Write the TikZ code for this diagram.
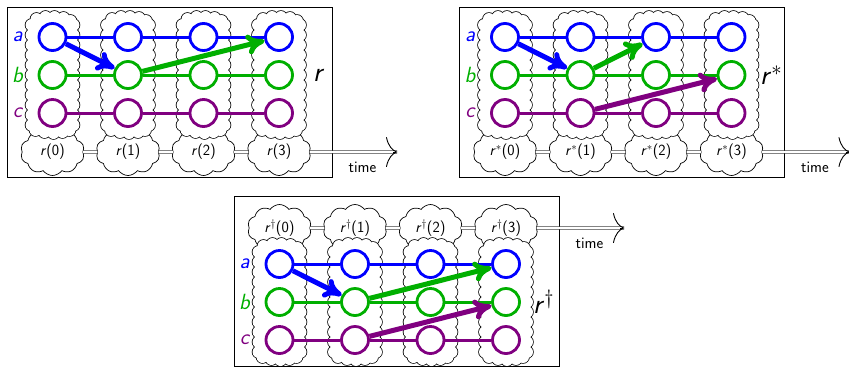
\documentclass[tikz,border=0pt]{standalone}
\usetikzlibrary{shapes.symbols,arrows.meta,calc}
\definecolor{cA}{RGB}{0,0,255}
\definecolor{cB}{RGB}{0,175,0}
\definecolor{cC}{RGB}{128,0,128}
\tikzset{
  state/.style={circle,draw,fill=white,line width=2.8pt,minimum size=27pt,inner sep=0pt},
  vcstroke/.style={draw=black,line width=1.5pt},
  tcloud/.style={cloud,cloud puffs=10,cloud puff arc=110,aspect=1.5,draw=black,line width=0.7pt,
    fill=white,minimum width=64pt,minimum height=47pt,inner sep=0pt,
    font=\fontsize{15.5}{17}\selectfont\sffamily},
  dline/.style={draw=black!75,line width=0.8pt,double=white,double distance=1.6pt},
  tipline/.style={line width=0.9pt,draw=black,-{To[length=11pt,width=30pt]}},
  hline/.style={line width=3pt},
  bigarrow/.style={line width=5pt,-{To[length=18pt,width=20pt]}},
  boxline/.style={draw=black,line width=0.7pt},
  rowlabel/.style={font=\fontsize{22}{24}\selectfont\sffamily\itshape,inner sep=0pt},
  biglabel/.style={font=\fontsize{28}{30}\selectfont\sffamily,inner sep=0pt,anchor=west},
  timelabel/.style={font=\fontsize{16}{18}\selectfont\sffamily,inner sep=0pt}
}
\def\vcpts{-21/-50,-21/-40,-21/-30,-21/-20,-21/-10,-21/0,-21/10,-21/20,-21/30,-21/40,-21/50,
  21/-50,21/-40,21/-30,21/-20,21/-10,21/0,21/10,21/20,21/30,21/40,21/50,
  -16/-56,-7/-58,2/-58,11/-57,18/-54,
  -17/55,-8/57,1/58,10/57,17/55}
% scalloped vertical cloud centred at (#1,#2)
\newcommand\vcloudat[2]{%
  \foreach \dx/\dy in \vcpts{\draw[vcstroke] ({#1+\dx},{#2+\dy}) circle[radius=6pt];}
  \fill[white] ({#1-21},{#2-57}) rectangle ({#1+21},{#2+57});
  \foreach \dx/\dy in \vcpts{\fill[white] ({#1+\dx},{#2+\dy}) circle[radius=6pt];}
}
% #1 name, #2 ox, #3 oy, #4 cloud dy, #5 cloud label, #6 big label, #7 box top offset, #8 big label dx
\newcommand\drawpanel[8]{%
  \draw[boxline] ({#2-45.5},{#3+#7}) rectangle ({#2+279.5},{#3+#7+170});
  \foreach \i in {0,...,3}{
    \node[tcloud] (#1t\i) at ({#2+75.5*\i},{#3+#4}) {#5(\i)};
  }
  \foreach \i in {0,...,3}{
    \vcloudat{#2+75.5*\i}{#3+38}
  }
  \foreach \i/\j in {0/1,1/2,2/3}{
    \draw[dline] (#1t\i) -- (#1t\j);
  }
  \coordinate (#1tip) at ({#2+344.5},{#3+#4});
  \coordinate (#1tipb) at ({#2+340.5},{#3+#4});
  \draw[dline] (#1t3) -- (#1tip);
  \draw[tipline] (#1tipb) -- (#1tip);
  \node[timelabel] (#1time) at ({#2+310},{#3+#4+15}) {time};
  \foreach \r/\c/\k in {a/cA/0,b/cB/1,c/cC/2}{
    \foreach \i in {0,...,3}{
      \node[state,draw=\c] (#1\r\i) at ({#2+75.5*\i},{#3+38*\k}) {};
    }
    \foreach \i/\j in {0/1,1/2,2/3}{
      \draw[hline,\c] (#1\r\i) -- (#1\r\j);
    }
    \node[rowlabel,text=\c] (#1lab\r) at ({#2-35},{#3+38*\k}) {\r};
  }
  \node[biglabel] (#1big) at ({#2+226.5+#8},{#3+38}) {#6};
}
\begin{document}
\begin{tikzpicture}[x=1pt,y=-1pt]
\useasboundingbox (0,0) rectangle (849,368);
% panel 1
\drawpanel{p}{52.5}{37}{115}{\textit{r}}{\textit{r}}{-30}{34}
\draw[bigarrow,cA] (pa0) -- (pb1);
\draw[bigarrow,cB] (pb1) -- (pa3);
% panel 2
\drawpanel{q}{505}{37}{115}{\textit{r}$^*$}{\textit{r}$^*$}{-30}{28.5}
\draw[bigarrow,cA] (qa0) -- (qb1);
\draw[bigarrow,cB] (qb1) -- (qa2);
\draw[bigarrow,cC] (qc1) -- (qb3);
% panel 3
\drawpanel{s}{279.5}{264}{-36}{\textit{r}$^\dagger$}{\textit{r}$^\dagger$}{-68}{27}
\draw[bigarrow,cA] (sa0) -- (sb1);
\draw[bigarrow,cB] (sb1) -- (sa3);
\draw[bigarrow,cC] (sc1) -- (sb3);
\end{tikzpicture}
\end{document}
